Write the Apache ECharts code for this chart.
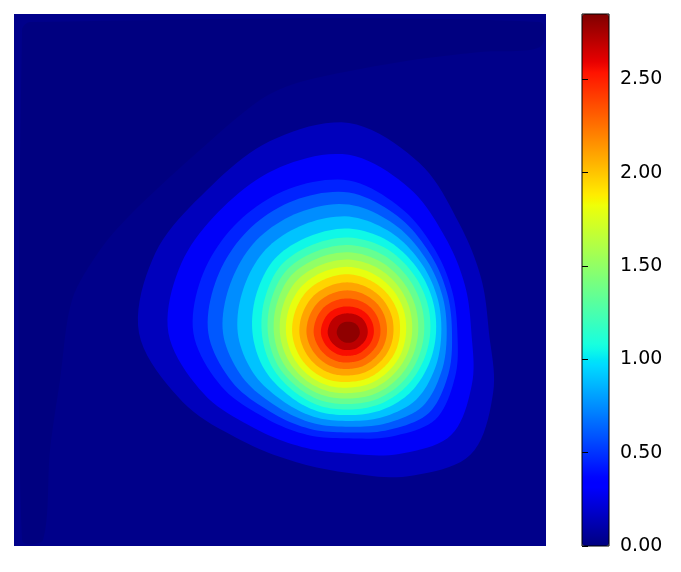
<!DOCTYPE html>
<html><head><meta charset="utf-8">
<script src="https://cdn.jsdelivr.net/npm/echarts@6/dist/echarts.min.js"></script>
<style>html,body{margin:0;padding:0;background:#fff}#c{width:681px;height:572px}</style>
</head><body><div id="c"></div>
<script>
// ---------------- data ----------------
// plot domain: x 0..532, y 0..532 (y up)
const peakValue = 2.85;
const peakX = 335;
const peakY = 213;
// directions (degrees, counter-clockwise from +x) at which contour radii were read
const directionsDeg = [0, 22.5, 45, 67.5, 90, 112.5, 135, 157.5, 180, 202.5, 225, 247.5, 270, 292.5, 315, 337.5];
// contour levels
const contourLevels = [0.075, 0.225, 0.375, 0.525, 0.675, 0.825, 0.975, 1.125, 1.275, 1.425, 1.575, 1.725, 1.875, 2.025, 2.175, 2.325, 2.475, 2.625, 2.775];
// radius of each contour (one row per level, one value per direction)
const contourRadii = [
  [140, 143, 155.5, 184, 210, 207.5, 201.5, 209.5, 210, 180, 152, 139.5, 140, 155, 172, 156],
  [122.4, 125.4, 135.8, 157.0, 178.2, 179.6, 178.0, 181.6, 180.6, 157.7, 134.4, 123.3, 120.6, 130.9, 144.4, 133.1],
  [108.4, 111.4, 120.1, 135.4, 152.4, 156.1, 157.0, 157.6, 155.6, 138.5, 119.6, 110.1, 105.3, 111.9, 122.2, 114.8],
  [103.0, 106.0, 113.6, 126.6, 140.4, 143.5, 144.0, 143.0, 140.7, 126.9, 111.4, 103.6, 99.5, 104.8, 113.0, 107.5],
  [97.7, 100.7, 107.2, 117.8, 128.4, 130.5, 131.0, 128.5, 126.0, 115.4, 103.3, 97.2, 93.7, 97.7, 103.8, 100.2],
  [92.3, 95.3, 100.8, 109.0, 116.4, 117.5, 118.0, 114.5, 111.2, 103.8, 95.1, 90.8, 87.9, 90.7, 94.6, 93.0],
  [87.0, 90.0, 94.4, 100.2, 104.4, 104.5, 105.0, 100.4, 96.5, 92.3, 87.0, 84.4, 82.1, 83.6, 85.4, 85.7],
  [81.2, 84.1, 87.8, 92.5, 95.4, 95.5, 96.0, 91.0, 87.2, 84.3, 80.5, 78.5, 76.5, 77.4, 78.3, 79.3],
  [75.1, 77.8, 81.2, 85.3, 88.0, 88.0, 88.5, 84.5, 81.1, 78.4, 75.0, 73.0, 71.0, 71.7, 72.4, 73.4],
  [69.1, 71.6, 74.6, 78.2, 80.7, 81.0, 81.5, 78.0, 75.1, 72.6, 69.5, 67.5, 65.5, 66.1, 66.6, 67.6],
  [63.1, 65.4, 68.1, 71.1, 73.4, 73.6, 74.0, 71.5, 69.1, 66.7, 64.1, 62.1, 60.1, 60.4, 60.7, 61.7],
  [57.0, 59.2, 61.5, 63.9, 66.1, 66.3, 66.5, 64.8, 63.0, 60.9, 58.6, 56.6, 54.6, 54.7, 54.9, 55.9],
  [50.9, 52.9, 54.8, 56.7, 58.7, 59.0, 59.3, 58.0, 56.8, 54.8, 52.8, 50.9, 48.9, 48.9, 48.9, 49.9],
  [44.4, 46.0, 47.6, 49.1, 50.6, 51.0, 51.3, 50.4, 49.6, 47.7, 45.9, 44.1, 42.4, 42.4, 42.4, 43.4],
  [37.9, 39.2, 40.5, 41.5, 42.6, 43.0, 43.5, 43.0, 42.5, 40.7, 38.9, 37.4, 35.9, 35.9, 35.9, 36.9],
  [31.4, 32.3, 33.3, 33.9, 34.5, 35.2, 35.9, 35.6, 35.3, 33.6, 32.0, 30.7, 29.4, 29.4, 29.4, 30.4],
  [24.8, 25.5, 26.1, 26.3, 26.5, 27.4, 28.3, 28.2, 28.1, 26.6, 25.0, 23.9, 22.8, 22.8, 22.8, 23.8],
  [18.7, 19.1, 19.6, 19.6, 19.6, 20.4, 21.3, 21.3, 21.3, 20.0, 18.7, 17.9, 17.0, 17.0, 17.0, 17.9],
  [10.8, 11.0, 11.3, 11.3, 11.3, 11.8, 12.3, 12.3, 12.3, 11.5, 10.8, 10.3, 9.8, 9.8, 9.8, 10.3]
];
// lowest region (values close to zero) in the upper-left part of the field
const lowRegionX = [8, 8, 16, 526, 526, 466, 386, 286, 246, 186, 119, 86, 58, 46, 36, 29];
const lowRegionY = [6, 516, 524, 524, 499, 494, 484, 464, 446, 396, 334, 296, 246, 166, 96, 6];
// colorbar
const colorbarMin = 0;
const colorbarMax = 2.85;
const colorbarTicks = [0, 0.5, 1.0, 1.5, 2.0, 2.5];

// ---------------- styling helpers ----------------
function seg(t, pts) {
  for (let i = 1; i < pts.length; i++) {
    if (t <= pts[i][0]) {
      const [t0, v0] = pts[i - 1], [t1, v1] = pts[i];
      return v0 + (v1 - v0) * (t - t0) / (t1 - t0);
    }
  }
  return pts[pts.length - 1][1];
}
function jet(t) {
  const r = seg(t, [[0, 0], [0.35, 0], [0.66, 1], [0.89, 1], [1, 0.5]]);
  const g = seg(t, [[0, 0], [0.125, 0], [0.375, 1], [0.64, 1], [0.91, 0], [1, 0]]);
  const b = seg(t, [[0, 0.5], [0.11, 1], [0.34, 1], [0.65, 0], [1, 0]]);
  return 'rgb(' + Math.round(r * 255) + ',' + Math.round(g * 255) + ',' + Math.round(b * 255) + ')';
}
const jetStops = [];
for (let i = 0; i <= 200; i++) jetStops.push(jet(i / 200));

const contourData = contourLevels.map((lv, i) => {
  const upper = i + 1 < contourLevels.length ? contourLevels[i + 1] : peakValue;
  return [i, (lv + upper) / 2];
});

// draw a closed smooth outline through the read points (Catmull-Rom curve, rendered finely)
function smoothOutline(pts, steps) {
  const n = pts.length, out = [];
  for (let i = 0; i < n; i++) {
    const p0 = pts[(i - 1 + n) % n], p1 = pts[i], p2 = pts[(i + 1) % n], p3 = pts[(i + 2) % n];
    for (let s = 0; s < steps; s++) {
      const t = s / steps, t2 = t * t, t3 = t2 * t;
      const f = (a, b, c, d) => 0.5 * ((2 * b) + (-a + c) * t + (2 * a - 5 * b + 4 * c - d) * t2 + (-a + 3 * b - 3 * c + d) * t3);
      out.push([f(p0[0], p1[0], p2[0], p3[0]), f(p0[1], p1[1], p2[1], p3[1])]);
    }
  }
  return out;
}

const chart = echarts.init(document.getElementById('c'), null, { renderer: 'canvas' });
const font = 'DejaVu Sans';
chart.setOption({
  animation: false,
  backgroundColor: '#ffffff',
  grid: [
    { left: 14, top: 14, width: 532, height: 532, show: true, backgroundColor: '#00008a', borderWidth: 0 },
    { left: 582, top: 14, width: 27, height: 532, show: true, backgroundColor: 'transparent', borderColor: '#000', borderWidth: 1, z: 10 }
  ],
  xAxis: [
    { type: 'value', gridIndex: 0, min: 0, max: 532, show: false },
    { type: 'value', gridIndex: 1, min: 0, max: 1, show: false }
  ],
  yAxis: [
    { type: 'value', gridIndex: 0, min: 0, max: 532, show: false },
    {
      type: 'value', gridIndex: 1, min: colorbarMin, max: colorbarMax, interval: 0.5, position: 'right', z: 10,
      axisLine: { show: false },
      splitLine: { show: false },
      axisTick: { show: true, length: 6, customValues: colorbarTicks, lineStyle: { color: '#000', width: 1 } },
      axisLabel: { show: true, customValues: colorbarTicks, margin: 11, color: '#000', fontFamily: font, fontSize: 19,
        formatter: v => v.toFixed(2) }
    }
  ],
  visualMap: {
    type: 'continuous', min: colorbarMin, max: colorbarMax, dimension: 1, seriesIndex: 1,
    orient: 'vertical', left: 582, top: 14, itemWidth: 27, itemHeight: 532, padding: 0,
    calculable: false, hoverLink: false, text: null, showLabel: false,
    inRange: { color: jetStops }, textStyle: { color: 'transparent' }
  },
  series: [
    {
      type: 'custom', xAxisIndex: 0, yAxisIndex: 0, clip: true, silent: true,
      data: [[0, 0]],
      renderItem: function (params, api) {
        const pts = lowRegionX.map((x, k) => api.coord([x, lowRegionY[k]]));
        return { type: 'polygon', shape: { points: pts, smooth: 0.3 }, style: { fill: '#000080' } };
      }
    },
    {
      type: 'custom', xAxisIndex: 0, yAxisIndex: 0, clip: true, silent: true,
      data: contourData,
      renderItem: function (params, api) {
        const i = api.value(0);
        const radii = contourRadii[i];
        const pts = radii.map((r, k) => {
          const a = directionsDeg[k] * Math.PI / 180;
          return api.coord([peakX + r * Math.cos(a), peakY + r * Math.sin(a)]);
        });
        return { type: 'polygon', shape: { points: smoothOutline(pts, 10) }, style: { fill: api.visual('color') } };
      }
    }
  ]
});
</script></body></html>
